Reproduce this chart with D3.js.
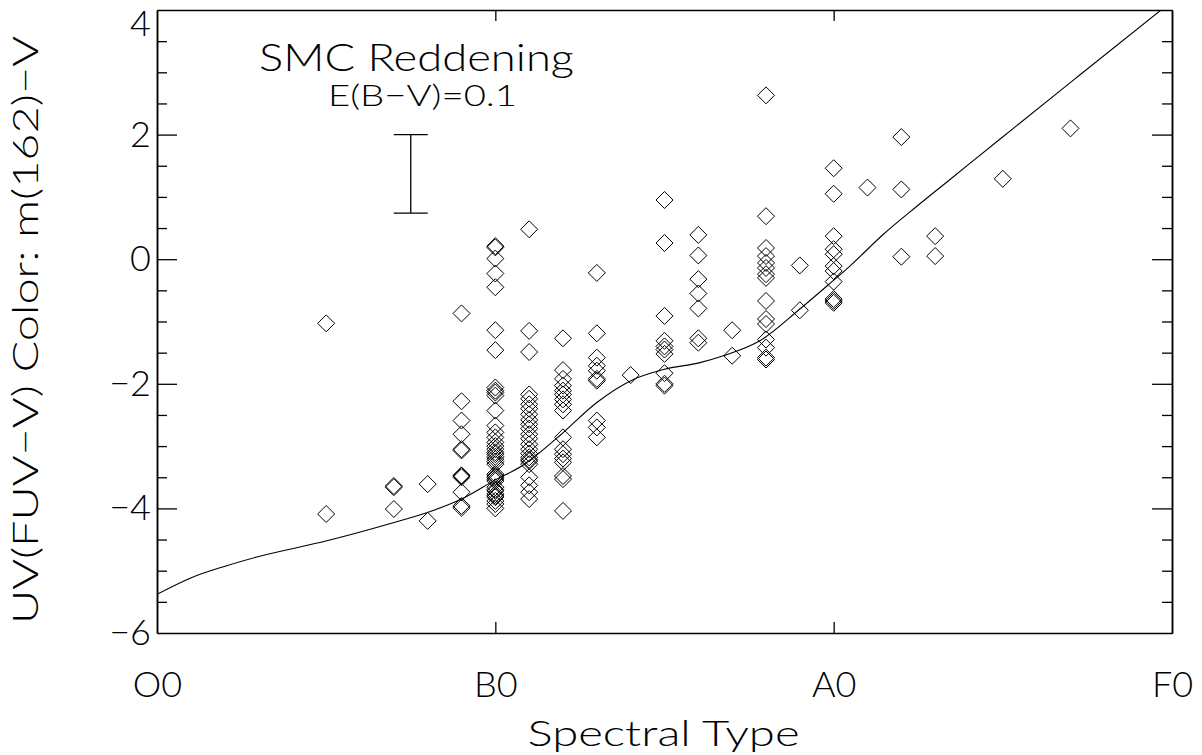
<!DOCTYPE html>
<html>
<head>
<meta charset="utf-8">
<script src="https://cdn.jsdelivr.net/npm/d3@7"></script>
<style>
  body { margin: 0; background: #fff; }
  svg { display: block; }
  text { font-family: Lato, "DejaVu Sans", sans-serif; font-weight: 300; fill: #000; }
</style>
</head>
<body>
<script>
// spectral subtype: O0 = 0, B0 = 10, A0 = 20, F0 = 30
var tickValues = [0, 10, 20, 30]
var tickLabels = ['O0', 'B0', 'A0', 'F0']

// one column of stars per subtype
var subtypes = [5, 7, 8, 9, 10, 11, 12, 13, 14, 15, 16, 17, 18, 19, 20, 21, 22, 23, 25, 27]
var uvColors = [
  [-1.03, -4.09],
  [-3.66, -3.64, -4.01],
  [-3.61, -4.20],
  [-0.87, -2.28, -2.59, -2.81, -3.05, -3.07, -3.47, -3.48, -3.50, -3.74, -3.96, -3.99],
  [0.21, 0.19, 0.01, -0.23, -0.45, -1.14, -1.46, -2.06, -2.11, -2.14, -2.19, -2.43, -2.67,
   -2.78, -2.86, -2.94, -3.00, -3.05, -3.10, -3.13, -3.17, -3.21, -3.25, -3.29, -3.45, -3.48,
   -3.50, -3.53, -3.56, -3.66, -3.70, -3.72, -3.77, -3.80, -3.82, -3.88, -3.93, -4.00],
  [0.48, -1.15, -1.49, -2.17, -2.24, -2.33, -2.40, -2.49, -2.58, -2.65, -2.72, -2.81, -2.88,
   -2.97, -3.05, -3.12, -3.18, -3.22, -3.24, -3.29, -3.50, -3.63, -3.74, -3.85],
  [-1.27, -1.78, -1.92, -2.03, -2.11, -2.17, -2.25, -2.33, -2.43, -2.86, -3.05, -3.13, -3.20,
   -3.26, -3.48, -3.53, -4.04],
  [-0.22, -1.19, -1.58, -1.71, -1.79, -1.92, -1.95, -2.59, -2.70, -2.86],
  [-1.86],
  [0.95, 0.26, -0.91, -1.31, -1.40, -1.45, -1.52, -1.83, -2.00, -2.03],
  [0.39, 0.06, -0.32, -0.55, -0.79, -1.27, -1.34],
  [-1.14, -1.55],
  [2.63, 0.69, 0.18, 0.05, -0.06, -0.14, -0.24, -0.30, -0.67, -0.96, -1.04, -1.29, -1.42, -1.58, -1.61],
  [-0.10, -0.82],
  [1.46, 1.05, 0.37, 0.16, 0.08, -0.11, -0.19, -0.36, -0.64, -0.67, -0.70],
  [1.15],
  [1.96, 1.12, 0.04],
  [0.37, 0.05],
  [1.29],
  [2.10]
]

// model colour sequence
var curveType = [0, 0.98, 2.06, 2.95, 5.02, 6.98, 7.97, 9.0, 10.04, 10.78, 11.32, 11.91, 13.0,
  14.08, 14.97, 16.05, 16.74, 17.82, 19.0, 19.8, 20.48, 21.47, 22.46, 23.44, 24.92, 27.19, 29.7, 30]
var curveColor = [-5.38, -5.12, -4.92, -4.78, -4.52, -4.23, -4.07, -3.85, -3.53, -3.32, -3.10, -2.83, -2.30,
  -1.93, -1.77, -1.66, -1.55, -1.31, -0.80, -0.43, -0.11, 0.40, 0.85, 1.28, 1.93, 2.92, 4.01, 4.14]

// reddening vector
var reddeningType = 7.5
var reddeningRange = [0.74, 2.0]

var width = 1202, height = 755
var margin = { left: 157, right: 30, top: 10, bottom: 122 }

var svg = d3.select('body').append('svg')
  .attr('width', width)
  .attr('height', height)

var x = d3.scaleLinear().domain([0, 30]).range([margin.left, width - margin.right])
var y = d3.scaleLinear().domain([-6, 4]).range([height - margin.bottom, margin.top])

svg.append('clipPath').attr('id', 'plot')
  .append('rect')
  .attr('x', x(0)).attr('y', y(4))
  .attr('width', x(30) - x(0)).attr('height', y(-6) - y(4))

// axes: ticks point inward on all four sides
function styleAxis(g) {
  g.select('.domain').attr('stroke', '#000').attr('stroke-width', 1.5)
  g.selectAll('.tick line').attr('stroke', '#000').attr('stroke-width', 1.3)
  g.selectAll('.tick text')
    .style('font-family', 'Lato, "DejaVu Sans", sans-serif')
    .style('font-weight', 300)
    .attr('font-size', 36)
}

var xBottom = svg.append('g')
  .attr('transform', 'translate(0,' + y(-6) + ')')
  .call(d3.axisBottom(x).tickValues(tickValues).tickSize(-11).tickSizeOuter(0).tickPadding(38)
    .tickFormat(function(d, i) { return tickLabels[i] }))
styleAxis(xBottom)
xBottom.selectAll('.tick').filter(function(d) { return d === 0 || d === 30 }).select('line').remove()

var xTop = svg.append('g')
  .attr('transform', 'translate(0,' + y(4) + ')')
  .call(d3.axisTop(x).tickValues([10, 20]).tickSize(-11).tickSizeOuter(0).tickFormat(''))
styleAxis(xTop)

var yMinor = d3.range(-6, 4.01, 0.5).filter(function(d) { return d % 2 !== 0 })

var yLeft = svg.append('g')
  .attr('transform', 'translate(' + x(0) + ',0)')
  .call(d3.axisLeft(y).tickValues([-6, -4, -2, 0, 2, 4]).tickSize(-20).tickSizeOuter(0).tickPadding(6)
    .tickFormat(function(d) { return d < 0 ? '\u2212' + Math.abs(d) : d }))
styleAxis(yLeft)
yLeft.selectAll('.tick').filter(function(d) { return d === 4 }).select('text').attr('dy', '0.7em')
yLeft.selectAll('.tick').filter(function(d) { return d === 4 || d === -6 }).select('line').remove()

var yLeftMinor = svg.append('g')
  .attr('transform', 'translate(' + x(0) + ',0)')
  .call(d3.axisLeft(y).tickValues(yMinor).tickSize(-10).tickSizeOuter(0).tickFormat(''))
styleAxis(yLeftMinor)

var yRight = svg.append('g')
  .attr('transform', 'translate(' + x(30) + ',0)')
  .call(d3.axisRight(y).tickValues([-4, -2, 0, 2]).tickSize(-20).tickSizeOuter(0).tickFormat(''))
styleAxis(yRight)

var yRightMinor = svg.append('g')
  .attr('transform', 'translate(' + x(30) + ',0)')
  .call(d3.axisRight(y).tickValues(yMinor).tickSize(-10).tickSizeOuter(0).tickFormat(''))
styleAxis(yRightMinor)

// axis titles
svg.append('text')
  .attr('x', (x(0) + x(30)) / 2 - 1)
  .attr('y', 746)
  .attr('text-anchor', 'middle')
  .attr('font-size', 36)
  .attr('textLength', 272)
  .attr('lengthAdjust', 'spacingAndGlyphs')
  .text('Spectral Type')

svg.append('text')
  .attr('transform', 'translate(38,' + 330 + ') rotate(-90)')
  .attr('text-anchor', 'middle')
  .attr('font-size', 36)
  .attr('textLength', 588)
  .attr('lengthAdjust', 'spacingAndGlyphs')
  .text('UV(FUV\u2212V) Color: m(162)\u2212V')

// stars
var stars = []
subtypes.forEach(function(s, i) {
  uvColors[i].forEach(function(c) { stars.push({ type: s, color: c }) })
})

var r = 8.5
svg.append('g').selectAll('path').data(stars).enter().append('path')
  .attr('d', function(d) {
    var cx = x(d.type), cy = y(d.color)
    return 'M' + cx + ',' + (cy - r) + 'L' + (cx + r) + ',' + cy + 'L' + cx + ',' + (cy + r) + 'L' + (cx - r) + ',' + cy + 'Z'
  })
  .attr('fill', 'none')
  .attr('stroke', '#000')
  .attr('stroke-width', 1)

// model curve
var line = d3.line()
  .x(function(d, i) { return x(curveType[i]) })
  .y(function(d) { return y(d) })
  .curve(d3.curveMonotoneX)

svg.append('path')
  .datum(curveColor)
  .attr('clip-path', 'url(#plot)')
  .attr('d', line)
  .attr('fill', 'none')
  .attr('stroke', '#000')
  .attr('stroke-width', 1.1)

// reddening bar
var rb = svg.append('g').attr('stroke', '#000').attr('stroke-width', 1.3)
rb.append('line')
  .attr('x1', x(reddeningType)).attr('x2', x(reddeningType))
  .attr('y1', y(reddeningRange[0])).attr('y2', y(reddeningRange[1]))
rb.selectAll('.cap').data(reddeningRange).enter().append('line')
  .attr('x1', x(reddeningType) - 17).attr('x2', x(reddeningType) + 17)
  .attr('y1', function(d) { return y(d) }).attr('y2', function(d) { return y(d) })

svg.append('text')
  .attr('x', 259)
  .attr('y', 71)
  .attr('font-size', 37)
  .attr('textLength', 315)
  .attr('lengthAdjust', 'spacingAndGlyphs')
  .text('SMC Reddening')

svg.append('text')
  .attr('x', 328)
  .attr('y', 106)
  .attr('font-size', 30)
  .attr('textLength', 189)
  .attr('lengthAdjust', 'spacingAndGlyphs')
  .text('E(B\u2212V)=0.1')
</script>
</body>
</html>
